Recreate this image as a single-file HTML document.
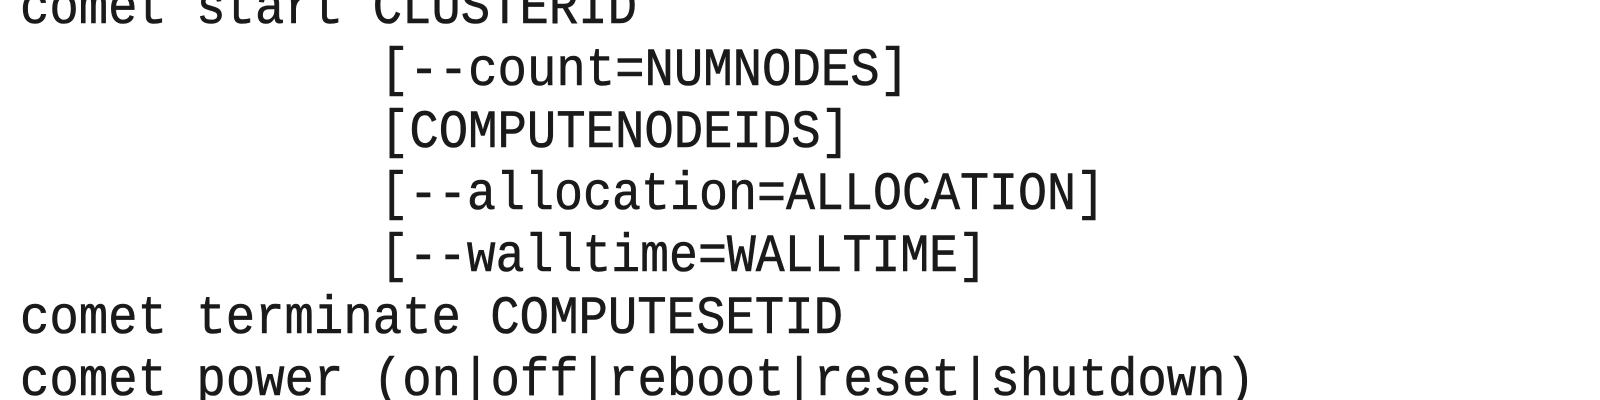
<!DOCTYPE html>
<html><head><style>
html,body{margin:0;padding:0;background:#fff;width:1600px;height:400px;overflow:hidden}
text{font-family:"Liberation Mono",monospace;font-size:54px;fill:#1a1a1a;stroke:#1a1a1a;stroke-width:0.6}
</style></head><body>
<svg width="1600" height="400" xmlns="http://www.w3.org/2000/svg">
<text x="20" y="23" textLength="617" lengthAdjust="spacingAndGlyphs">comet start CLUSTERID</text>
<text x="380" y="85" textLength="529" lengthAdjust="spacingAndGlyphs">[--count=NUMNODES]</text>
<text x="380" y="147" textLength="470" lengthAdjust="spacingAndGlyphs">[COMPUTENODEIDS]</text>
<text x="380" y="209" textLength="725" lengthAdjust="spacingAndGlyphs">[--allocation=ALLOCATION]</text>
<text x="380" y="271" textLength="607" lengthAdjust="spacingAndGlyphs">[--walltime=WALLTIME]</text>
<text x="20" y="333" textLength="823" lengthAdjust="spacingAndGlyphs">comet terminate COMPUTESETID</text>
<text x="20" y="395" textLength="1235" lengthAdjust="spacingAndGlyphs">comet power (on|off|reboot|reset|shutdown)</text>
</svg>
</body></html>
